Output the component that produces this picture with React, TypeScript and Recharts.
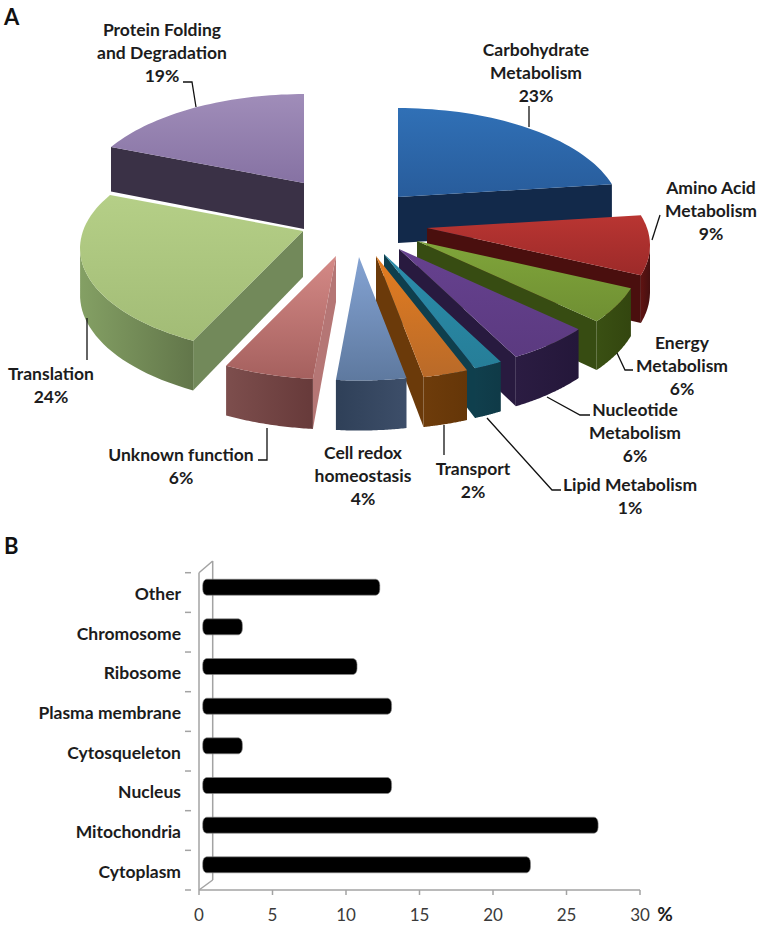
import { Bar, BarChart, Pie, PieChart, XAxis, YAxis } from "recharts";

// panel A
const pieNames = [
  "Protein Folding and Degradation",
  "Carbohydrate Metabolism",
  "Amino Acid Metabolism",
  "Energy Metabolism",
  "Nucleotide Metabolism",
  "Lipid Metabolism",
  "Transport",
  "Cell redox homeostasis",
  "Unknown function",
  "Translation",
];
// slice sizes as drawn; the printed labels are rounded
const pieValues = [19, 23, 9, 5.1, 5.4, 1.8, 2.8, 4.3, 5.6, 24];

// panel B
const locations = [
  "Other",
  "Chromosome",
  "Ribosome",
  "Plasma membrane",
  "Cytosqueleton",
  "Nucleus",
  "Mitochondria",
  "Cytoplasm",
];
const locationValues = [12.05, 2.7, 10.5, 12.85, 2.7, 12.85, 26.9, 22.3];
const xTicks = [0, 5, 10, 15, 20, 25, 30];

const pieData = pieNames.map((name, i) => ({ name, value: pieValues[i] }));
const barData = locations.map((name, i) => ({ name, value: locationValues[i] }));

const FONT = "Lato, sans-serif";
const TEXT = "#1c1c1c";
const AXIS = "#a3a3a3";
const CX = 355;
const CY = 225;
const DEPTH = 46;
const SQUASH = 0.47;
const PERSP = 0.163;

type SliceStyle = {
  dx: number;
  dy: number;
  top: [string, string];
  wall: [string, string];
  side: string;
  lines: { text: string[]; x: number; y: number; leader?: number[][] };
};

const sliceStyles: Record<string, SliceStyle> = {
  "Protein Folding and Degradation": {
    dx: -51, dy: -42, top: ["#a08db9", "#8672a3"], wall: ["#3a3146", "#342c40"], side: "#3a3146",
    lines: { text: ["Protein Folding", "and Degradation", "19%"], x: 162, y: 29, leader: [[183, 82], [192, 82], [196, 107]] },
  },
  "Carbohydrate Metabolism": {
    dx: 43, dy: -28, top: ["#3070b6", "#285c9b"], wall: ["#12294a", "#142c4e"], side: "#12294a",
    lines: { text: ["Carbohydrate", "Metabolism", "23%"], x: 536, y: 49, leader: [[529, 106], [529, 127]] },
  },
  "Amino Acid Metabolism": {
    dx: 72, dy: 3, top: ["#b93532", "#9c2a29"], wall: ["#5f1312", "#451010"], side: "#4a0f0e",
    lines: { text: ["Amino Acid", "Metabolism", "9%"], x: 711, y: 187, leader: [[660, 215], [652, 240]] },
  },
  "Energy Metabolism": {
    dx: 62, dy: 16, top: ["#80a53a", "#6f8f33"], wall: ["#3a5013", "#33460f"], side: "#374c12",
    lines: { text: ["Energy", "Metabolism", "6%"], x: 682, y: 342, leader: [[617, 353], [625, 370], [633, 370]] },
  },
  "Nucleotide Metabolism": {
    dx: 44, dy: 24, top: ["#66418f", "#5b3a80"], wall: ["#2b1c42", "#24173a"], side: "#281a3f",
    lines: { text: ["Nucleotide", "Metabolism", "6%"], x: 635, y: 409, leader: [[547, 397], [580, 415], [590, 415]] },
  },
  "Lipid Metabolism": {
    dx: 29, dy: 29, top: ["#2b8dab", "#267e98"], wall: ["#103f4d", "#0f3a47"], side: "#0f3f4d",
    lines: { text: ["Lipid Metabolism", "1%"], x: 630, y: 484, leader: [[487, 418], [552, 490], [561, 490]] },
  },
  Transport: {
    dx: 21, dy: 31, top: ["#e47d20", "#b96a29"], wall: ["#6e3c0b", "#653608"], side: "#6b3a0a",
    lines: { text: ["Transport", "2%"], x: 473, y: 468, leader: [[444, 425], [444, 455]] },
  },
  "Cell redox homeostasis": {
    dx: 4, dy: 32, top: ["#84a3d3", "#5e799f"], wall: ["#2f4058", "#3d4e69"], side: "#2f4058",
    lines: { text: ["Cell redox", "homeostasis", "4%"], x: 363, y: 452 },
  },
  "Unknown function": {
    dx: -19, dy: 31, top: ["#d58a87", "#a5605e"], wall: ["#7d4e4d", "#673a3a"], side: "#b57675",
    lines: { text: ["Unknown function", "6%"], x: 181, y: 454, leader: [[267, 428], [267, 460], [258, 460]] },
  },
  Translation: {
    dx: -52, dy: 6, top: ["#b5cf87", "#a2bc76"], wall: ["#84a064", "#62764a"], side: "#72895a",
    lines: { text: ["Translation", "24%"], x: 51, y: 373, leader: [[87, 318], [87, 360]] },
  },
};

const pts = (list: number[][]) => list.map((p) => `${p[0].toFixed(1)},${p[1].toFixed(1)}`).join(" ");

// tilted, exploded slice built from the sector angles the Pie computes
const Slice3D = (props: any) => {
  const { startAngle, endAngle, outerRadius, cx, cy, name } = props;
  const style = sliceStyles[name];
  const ax = cx + style.dx;
  const ay = cy + style.dy;
  const rim = (deg: number) => {
    const u = Math.cos((deg * Math.PI) / 180);
    const v = -Math.sin((deg * Math.PI) / 180);
    const s = 1 / (1 - PERSP * v);
    return [ax + outerRadius * u * s, ay + outerRadius * SQUASH * v * s, v];
  };
  const drop = (p: number[]) => [p[0], p[1] + DEPTH + 4 * (p[2] ?? 0)];
  const apex = [ax, ay, 0];
  const n = 40;
  const arc: number[][] = [];
  for (let i = 0; i <= n; i++) arc.push(rim(startAngle + ((endAngle - startAngle) * i) / n));

  const first = arc[0];
  const last = arc[n];
  const visibleArc = arc.filter((p, i) => {
    const next = arc[Math.min(i + 1, n)];
    const prev = arc[Math.max(i - 1, 0)];
    return next[0] - prev[0] < 0;
  });
  const id = name.replace(/\s/g, "");
  return (
    <g>
      <defs>
        <linearGradient id={`top-${id}`} x1="0" y1="0" x2="0" y2="1">
          <stop offset="0%" stopColor={style.top[0]} />
          <stop offset="100%" stopColor={style.top[1]} />
        </linearGradient>
        <linearGradient id={`wall-${id}`} x1="0" y1="0" x2="1" y2="0">
          <stop offset="0%" stopColor={style.wall[0]} />
          <stop offset="100%" stopColor={style.wall[1]} />
        </linearGradient>
      </defs>
      {first[0] - apex[0] < 0 && (
        <polygon points={pts([apex, first, drop(first), drop(apex)])} fill={style.side} />
      )}
      {apex[0] - last[0] < 0 && (
        <polygon points={pts([last, apex, drop(apex), drop(last)])} fill={style.side} />
      )}
      {visibleArc.length > 1 && (
        <polygon
          points={pts([...visibleArc, ...visibleArc.slice().reverse().map(drop)])}
          fill={`url(#wall-${id})`}
        />
      )}
      <polygon points={pts([apex, ...arc])} fill={`url(#top-${id})`} />
    </g>
  );
};

const SliceLabel = (props: any) => {
  const style = sliceStyles[props.name];
  if (!style) return null;
  const { text, x, y, leader } = style.lines;
  return (
    <g>
      {leader && <polyline points={pts(leader)} fill="none" stroke="#111" strokeWidth={1.3} />}
      {text.map((t, i) => (
        <text
          key={t}
          x={x}
          y={y + i * 23}
          textAnchor="middle"
          dominantBaseline="central"
          fontFamily={FONT}
          fontWeight={700}
          fontSize={17.5}
          fill={TEXT}
        >
          {t}
        </text>
      ))}
    </g>
  );
};

const CapsuleBar = (props: any) => {
  const { x, y, width, height } = props;
  const left = x + 3.7;
  const top = y - 5.5;
  return (
    <g>
      <rect x={left} y={top} width={width} height={height} rx={4} ry={6} fill="#000" stroke="#8a8a8a" strokeWidth={0.6} />
    </g>
  );
};

const LocationTick = (props: any) => {
  const { x, y, payload, index } = props;
  const band = 39.65;
  return (
    <g>
      <line x1={x - 6} x2={x} y1={y - band / 2} y2={y - band / 2} stroke={AXIS} strokeWidth={1.5} />
      {index === locations.length - 1 && (
        <line x1={x - 6} x2={x} y1={y + band / 2} y2={y + band / 2} stroke={AXIS} strokeWidth={1.5} />
      )}
      <text
        x={181}
        y={y + 1}
        textAnchor="end"
        dominantBaseline="central"
        fontFamily={FONT}
        fontWeight={700}
        fontSize={17.5}
        fill={TEXT}
      >
        {payload.value}
      </text>
    </g>
  );
};

const ValueTick = (props: any) => {
  const { x, payload } = props;
  return (
    <text x={x} y={384} textAnchor="middle" dominantBaseline="central" fontFamily={FONT} fontSize={17} fill="#3a3a3a">
      {payload.value}
    </text>
  );
};

const panelLetter = (text: string, y: number) => (
  <div style={{ position: "absolute", left: 4, top: y, fontFamily: FONT, fontWeight: 700, fontSize: 22, lineHeight: "24px", color: "#111" }}>
    {text}
  </div>
);

export default function App() {
  return (
    <div style={{ position: "absolute", left: 0, top: 0, width: 760, height: 925, background: "#fff", overflow: "hidden" }}>
      <div style={{ position: "absolute", left: 0, top: 0 }}>
        <PieChart width={760} height={530} margin={{ top: 0, right: 0, bottom: 0, left: 0 }}>
          <Pie
            data={pieData}
            dataKey="value"
            nameKey="name"
            cx={CX}
            cy={CY}
            outerRadius={220}
            startAngle={158.4}
            endAngle={-201.6}
            stroke="none"
            isAnimationActive={false}
            shape={Slice3D}
            label={SliceLabel}
            labelLine={false}
          />
        </PieChart>
      </div>
      <div style={{ position: "absolute", left: 0, top: 530 }}>
        <BarChart
          width={760}
          height={395}
          layout="vertical"
          data={barData}
          barSize={16}
          margin={{ top: 42.7, right: 120, bottom: 0, left: 0 }}
        >
          <line x1={199} y1={42.7} x2={212.7} y2={31} stroke={AXIS} strokeWidth={1.5} />
          <line x1={212.7} y1={31} x2={212.7} y2={350} stroke={AXIS} strokeWidth={1.5} />
          <line x1={199} y1={360} x2={212.7} y2={350} stroke={AXIS} strokeWidth={1.5} />
          <XAxis
            type="number"
            domain={[0, 30]}
            ticks={xTicks}
            height={35}
            stroke={AXIS}
            strokeWidth={1.5}
            tickSize={5}
            tick={ValueTick}
          />
          <YAxis
            type="category"
            dataKey="name"
            width={199}
            stroke={AXIS}
            strokeWidth={1.5}
            tickLine={false}
            interval={0}
            tick={LocationTick}
          />
          <Bar dataKey="value" isAnimationActive={false} shape={CapsuleBar} />
          <text x={665} y={383} textAnchor="middle" dominantBaseline="central" fontFamily={FONT} fontWeight={700} fontSize={19} fill={TEXT}>
            %
          </text>
        </BarChart>
      </div>
      {panelLetter("A", 5)}
      {panelLetter("B", 534)}
    </div>
  );
}
